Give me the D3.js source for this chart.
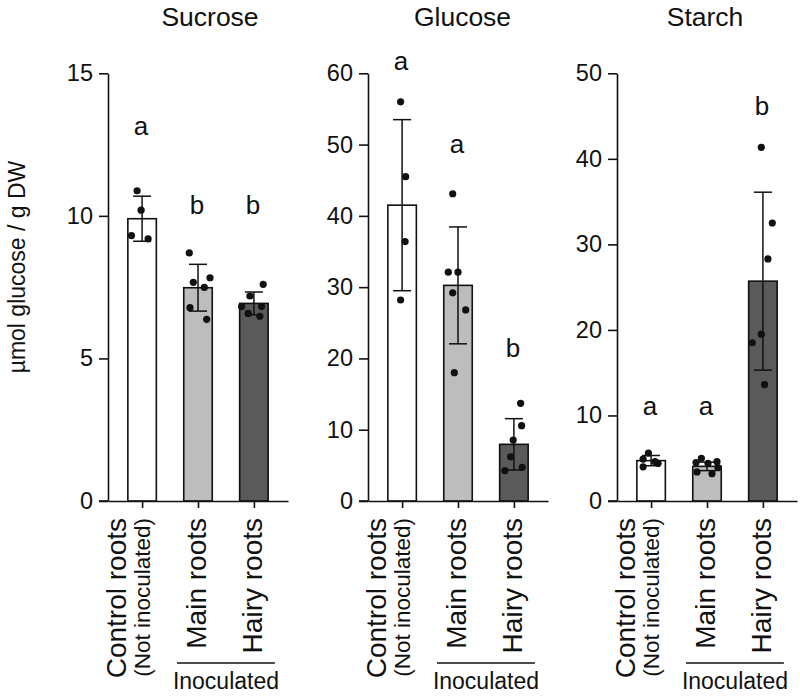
<!DOCTYPE html>
<html>
<head>
<meta charset="utf-8">
<script src="https://cdn.jsdelivr.net/npm/d3@7"></script>
<style>
  html, body { margin: 0; padding: 0; background: #ffffff; }
  svg { display: block; }
  text { font-family: "Liberation Sans", Arial, Helvetica, sans-serif; fill: #111; }
</style>
</head>
<body>
<svg id="chart" width="800" height="697"></svg>
<script>
// ---------------- data ----------------
const panelTitles = ["Sucrose", "Glucose", "Starch"];
const groupKeys = ["control", "main", "hairy"];
const groupLabels = [["Control roots", "(Not inoculated)"], ["Main roots"], ["Hairy roots"]];
const groupFills = ["#ffffff", "#bdbdbd", "#5a5a5a"];
const yMaxima = [15, 60, 50];
const yTickValues = [[0, 5, 10, 15], [0, 10, 20, 30, 40, 50, 60], [0, 10, 20, 30, 40, 50]];
const yAxisTitle = "µmol glucose / g DW";
const subgroupTitle = "Inoculated";

// means
const sucroseMean = [9.9, 7.48, 6.93];
const glucoseMean = [41.5, 30.25, 7.95];
const starchMean = [4.72, 4.05, 25.7];
// standard deviations
const sucroseSD = [0.79, 0.82, 0.40];
const glucoseSD = [12.0, 8.2, 3.6];
const starchSD = [0.6, 0.5, 10.4];
// individual replicates
const sucrosePoints = [
  [10.88, 10.2, 9.31, 9.19],
  [8.70, 7.67, 7.83, 7.49, 6.78, 6.37],
  [7.6, 7.19, 6.82, 6.58, 6.48, 6.82]
];
const glucosePoints = [
  [56.0, 45.5, 36.4, 28.2],
  [43.1, 32.1, 32.1, 29.2, 26.8, 18.0],
  [13.7, 10.56, 8.55, 6.2, 4.25, 4.73]
];
const starchPoints = [
  [5.6, 4.9, 4.6, 4.4, 4.0],
  [5.0, 4.5, 4.6, 4.4, 3.4, 3.2, 3.9],
  [41.35, 32.5, 28.3, 19.5, 18.5, 13.6]
];
// significance letters and the value level of their baseline
const sucroseLetters = ["a", "b", "b"];
const glucoseLetters = ["a", "a", "b"];
const starchLetters = ["a", "a", "b"];
const sucroseLetterLevel = [12.83, 10.08, 10.08];
const glucoseLetterLevel = [60.45, 48.76, 20.24];
const starchLetterLevel = [10.05, 10.05, 45.1];

// horizontal jitter of replicate dots (px from bar centre) – style only
const sucroseJitter = [[-5, -1, -10.6, 6], [-8.7, -4.7, 12, 6.3, -8, 8.7], [9.3, -4, -12.3, -5.7, 6, 7.7]];
const glucoseJitter = [[-1.5, 3.5, 3, -1.5], [-5.3, -9.7, 0, -5.3, 7.7, -3.7], [6.7, 7.7, -0.7, -3.3, -9, 8.3]];
const starchJitter = [[-2.7, -8, 4, 7, -8], [-5.6, -11, 10, 1, -10, 5, 11], [-1.6, 9.4, 5, -1.6, -10.6, 1.7]];

const means = [sucroseMean, glucoseMean, starchMean];
const sds = [sucroseSD, glucoseSD, starchSD];
const points = [sucrosePoints, glucosePoints, starchPoints];
const letters = [sucroseLetters, glucoseLetters, starchLetters];
const letterLevels = [sucroseLetterLevel, glucoseLetterLevel, starchLetterLevel];
const jitters = [sucroseJitter, glucoseJitter, starchJitter];

// ---------------- layout ----------------
const svg = d3.select("#chart");
const panelLeft = [108, 368, 617];
const titleCenter = [210, 462.5, 705];
const panelWidth = 180;
const yTop = 73.3, yBottom = 501;
const barWidth = 28.5;
const capWidth = 18;
const ink = "#111";

svg.append("text")
  .attr("transform", `translate(25,267) rotate(-90)`)
  .attr("text-anchor", "middle")
  .style("font-size", "23px")
  .text(yAxisTitle);

panelTitles.forEach((title, p) => {
  const x0 = panelLeft[p];
  const x = d3.scalePoint().domain(groupKeys).range([x0, x0 + panelWidth]).padding(0.61);
  const y = d3.scaleLinear().domain([0, yMaxima[p]]).range([yBottom, yTop]);
  const g = svg.append("g");

  // title
  g.append("text")
    .attr("x", titleCenter[p])
    .attr("y", 26)
    .attr("text-anchor", "middle")
    .style("font-size", "26.5px")
    .text(title);

  // bars
  g.selectAll("rect.bar").data(groupKeys).enter().append("rect")
    .attr("class", "bar")
    .attr("x", k => x(k) - barWidth / 2)
    .attr("width", barWidth)
    .attr("y", (k, i) => y(means[p][i]))
    .attr("height", (k, i) => yBottom - y(means[p][i]))
    .attr("fill", (k, i) => groupFills[i])
    .attr("stroke", ink)
    .attr("stroke-width", 1.6);

  // dots
  groupKeys.forEach((k, i) => {
    g.selectAll(null).data(points[p][i]).enter().append("circle")
      .attr("cx", (v, j) => x(k) + jitters[p][i][j])
      .attr("cy", v => y(v))
      .attr("r", 3.6)
      .attr("fill", ink);
  });

  // error bars
  groupKeys.forEach((k, i) => {
    const cx = x(k);
    const hi = y(means[p][i] + sds[p][i]);
    const lo = y(means[p][i] - sds[p][i]);
    const eg = g.append("g").attr("stroke", ink).attr("stroke-width", 1.5).attr("fill", "none");
    eg.append("line").attr("x1", cx).attr("x2", cx).attr("y1", hi).attr("y2", lo);
    eg.append("line").attr("x1", cx - capWidth / 2).attr("x2", cx + capWidth / 2).attr("y1", hi).attr("y2", hi);
    eg.append("line").attr("x1", cx - capWidth / 2).attr("x2", cx + capWidth / 2).attr("y1", lo).attr("y2", lo);
  });

  // letters
  g.selectAll("text.letter").data(groupKeys).enter().append("text")
    .attr("class", "letter")
    .attr("x", k => x(k) - 1)
    .attr("y", (k, i) => y(letterLevels[p][i]))
    .attr("text-anchor", "middle")
    .style("font-size", "26px")
    .text((k, i) => letters[p][i]);

  // y axis
  const ya = g.append("g")
    .attr("transform", `translate(${x0},0)`)
    .call(d3.axisLeft(y).tickValues(yTickValues[p]).tickSize(9).tickSizeOuter(0).tickPadding(6));
  ya.selectAll("text").style("font-size", "23.5px").attr("fill", ink);

  // x axis
  const xa = g.append("g")
    .attr("transform", `translate(0,${yBottom})`)
    .call(d3.axisBottom(x).tickSize(7).tickSizeOuter(0).tickFormat(""));

  [ya, xa].forEach(a => {
    a.select(".domain").attr("stroke", ink).attr("stroke-width", 1.6);
    a.selectAll(".tick line").attr("stroke", ink).attr("stroke-width", 1.6);
  });
  // extend the baseline to the 0 tick
  g.append("line").attr("x1", x0 - 9).attr("x2", x0).attr("y1", yBottom).attr("y2", yBottom)
    .attr("stroke", ink).attr("stroke-width", 1.6);

  // category labels (rotated)
  groupKeys.forEach((k, i) => {
    const lines = groupLabels[i];
    lines.forEach((line, li) => {
      const offset = (lines.length - 1 - li) * 24;
      const bx = x(k) + 8 - offset;
      const isSub = lines.length > 1 && li > 0;
      g.append("text")
        .attr("transform", `translate(${bx},518) rotate(-90)`)
        .attr("text-anchor", "end")
        .style("font-size", isSub ? "22.5px" : "28px")
        .text(line);
    });
  });

  // "Inoculated" bracket
  const xm = x(groupKeys[1]), xh = x(groupKeys[2]);
  g.append("line")
    .attr("x1", xm - 21).attr("x2", xh + 21)
    .attr("y1", 663).attr("y2", 663)
    .attr("stroke", ink).attr("stroke-width", 1.5);
  g.append("text")
    .attr("x", (xm + xh) / 2)
    .attr("y", 689)
    .attr("text-anchor", "middle")
    .style("font-size", "23px")
    .text(subgroupTitle);
});
</script>
</body>
</html>
